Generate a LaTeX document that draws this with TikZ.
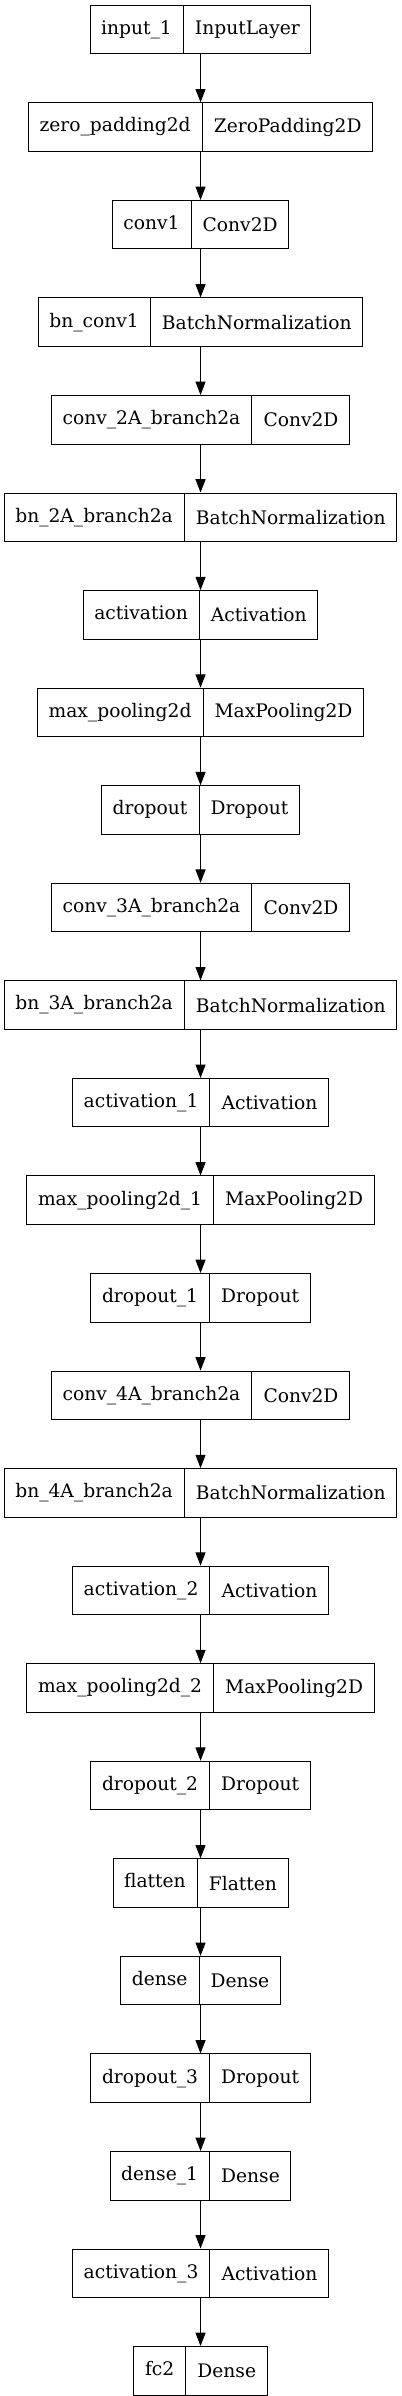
\documentclass[tikz,border=0pt]{standalone}
\usepackage{fontspec}
\setmainfont{DejaVu Serif}
\usetikzlibrary{positioning, shapes.multipart, arrows.meta}

\begin{document}
\begin{tikzpicture}[
		layer/.style={draw, line width=0.75pt, rectangle split, rectangle split horizontal,
			rectangle split parts=2, inner xsep=8.3pt, inner ysep=11.2pt,
			text height=10.6pt, text depth=3.4pt, font=\fontsize{14}{17}\selectfont},
		link/.style={-{Triangle[length=10pt,width=7.5pt]}, line width=0.75pt},
		node distance=36pt
	]
	\def\picw{300.75pt}
	\def\pich{1797pt}
	\useasboundingbox (0,0) rectangle (\picw,-\pich);
	
	% Draw layers
	\node[layer, anchor=north] (input1) at (150.4pt,-3.6pt) {input\_1\nodepart{two}InputLayer};
	\node[layer, below=of input1] (zeropad) {zero\_padding2d\nodepart{two}ZeroPadding2D};
	\node[layer, below=of zeropad] (conv1) {conv1\nodepart{two}Conv2D};
	\node[layer, below=of conv1] (bnconv1) {bn\_conv1\nodepart{two}BatchNormalization};
	\node[layer, below=of bnconv1] (conv2a) {conv\_2A\_branch2a\nodepart{two}Conv2D};
	\node[layer, below=of conv2a] (bn2a) {bn\_2A\_branch2a\nodepart{two}BatchNormalization};
	\node[layer, below=of bn2a] (act0) {activation\nodepart{two}Activation};
	\node[layer, below=of act0] (pool0) {max\_pooling2d\nodepart{two}MaxPooling2D};
	\node[layer, below=of pool0] (drop0) {dropout\nodepart{two}Dropout};
	\node[layer, below=of drop0] (conv3a) {conv\_3A\_branch2a\nodepart{two}Conv2D};
	\node[layer, below=of conv3a] (bn3a) {bn\_3A\_branch2a\nodepart{two}BatchNormalization};
	\node[layer, below=of bn3a] (act1) {activation\_1\nodepart{two}Activation};
	\node[layer, below=of act1] (pool1) {max\_pooling2d\_1\nodepart{two}MaxPooling2D};
	\node[layer, below=of pool1] (drop1) {dropout\_1\nodepart{two}Dropout};
	\node[layer, below=of drop1] (conv4a) {conv\_4A\_branch2a\nodepart{two}Conv2D};
	\node[layer, below=of conv4a] (bn4a) {bn\_4A\_branch2a\nodepart{two}BatchNormalization};
	\node[layer, below=of bn4a] (act2) {activation\_2\nodepart{two}Activation};
	\node[layer, below=of act2] (pool2) {max\_pooling2d\_2\nodepart{two}MaxPooling2D};
	\node[layer, below=of pool2] (drop2) {dropout\_2\nodepart{two}Dropout};
	\node[layer, below=of drop2] (flatten) {flatten\nodepart{two}Flatten};
	\node[layer, below=of flatten] (dense) {dense\nodepart{two}Dense};
	\node[layer, below=of dense] (drop3) {dropout\_3\nodepart{two}Dropout};
	\node[layer, below=of drop3] (dense1) {dense\_1\nodepart{two}Dense};
	\node[layer, below=of dense1] (act3) {activation\_3\nodepart{two}Activation};
	\node[layer, below=of act3] (fc2) {fc2\nodepart{two}Dense};
	
	% Draw links
	\foreach \a/\b in {input1/zeropad, zeropad/conv1, conv1/bnconv1, bnconv1/conv2a,
		conv2a/bn2a, bn2a/act0, act0/pool0, pool0/drop0, drop0/conv3a, conv3a/bn3a,
		bn3a/act1, act1/pool1, pool1/drop1, drop1/conv4a, conv4a/bn4a, bn4a/act2,
		act2/pool2, pool2/drop2, drop2/flatten, flatten/dense, dense/drop3,
		drop3/dense1, dense1/act3, act3/fc2}
		\draw[link] (\a.south) -- (\b.north);
\end{tikzpicture}
\end{document}
